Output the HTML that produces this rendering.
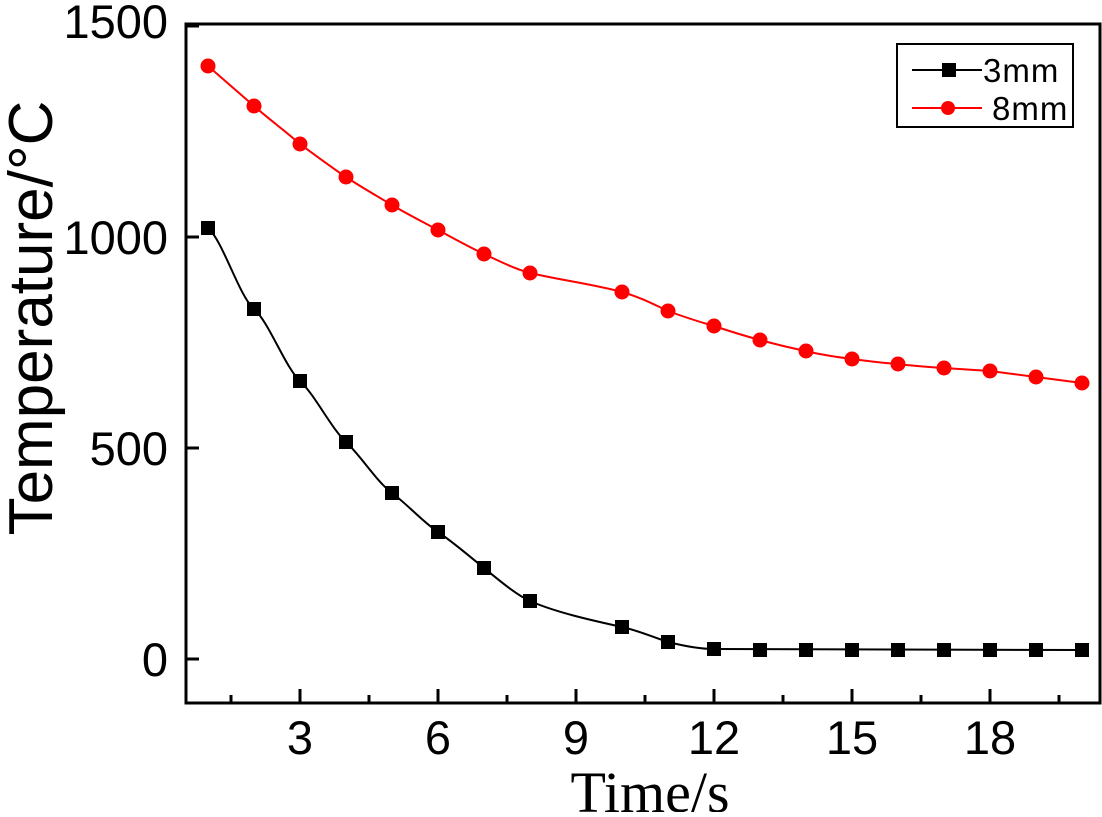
<!DOCTYPE html><html><head><style>body{margin:0;background:#fff}</style></head><body>
<svg width="1102" height="812" xmlns="http://www.w3.org/2000/svg" font-family="Liberation Sans, Arial, sans-serif">
<rect x="186" y="24" width="914" height="679" fill="none" stroke="#000" stroke-width="3"/>
<g stroke="#000" stroke-width="3">
<line x1="186" y1="659" x2="199" y2="659"/><line x1="186" y1="448" x2="199" y2="448"/><line x1="186" y1="237" x2="199" y2="237"/><line x1="186" y1="26" x2="199" y2="26"/>
<line x1="231" y1="703" x2="231" y2="695"/><line x1="300" y1="703" x2="300" y2="689"/>
<line x1="369" y1="703" x2="369" y2="695"/><line x1="438" y1="703" x2="438" y2="689"/>
<line x1="507" y1="703" x2="507" y2="695"/><line x1="576" y1="703" x2="576" y2="689"/>
<line x1="645" y1="703" x2="645" y2="695"/><line x1="714" y1="703" x2="714" y2="689"/>
<line x1="783" y1="703" x2="783" y2="695"/><line x1="852" y1="703" x2="852" y2="689"/>
<line x1="921" y1="703" x2="921" y2="695"/><line x1="990" y1="703" x2="990" y2="689"/>
<line x1="1059" y1="703" x2="1059" y2="695"/>
</g>
<g font-size="47" text-anchor="end" fill="#000">
<text x="168" y="676">0</text><text x="168" y="465">500</text><text x="168" y="254">1000</text><text x="168" y="38">1500</text>
</g>
<g font-size="47" text-anchor="middle" fill="#000">
<text x="300" y="754">3</text><text x="438" y="754">6</text><text x="576" y="754">9</text><text x="714" y="754">12</text><text x="852" y="754">15</text><text x="990" y="754">18</text>
</g>
<text x="650" y="812" font-size="58" text-anchor="middle" font-family="Liberation Serif, serif">Time/s</text>
<text transform="translate(52,318) rotate(-90)" font-size="62" text-anchor="middle">Temperature/°C</text>
<path fill="none" stroke="#000" stroke-width="2" d="M208,228 C223,241 239,296 254,309 C269,322 285,367 300,381 C315,395 331,428 346,442 C361,456 377,482 392,493 C407,504 423,522 438,532 C453,542 469,556 484,568 C499,580 515,594 530,601 C555,612 590,620 622,627 C640,631 655,638 668,642 C684,646 700,649 714,649 L1082,650"/>
<path fill="none" stroke="#f00" stroke-width="2" d="M208,66 C223,79 239,93 254,106 C269,119 285,131 300,144 C315,155 331,167 346,177 C361,187 377,196 392,205 C407,214 423,222 438,230 C453,238 469,247 484,254 C499,261 515,269 530,273 C560,280 592,284 622,292 C640,297 655,305 668,311 C684,317 700,322 714,326 C729,331 745,336 760,340 C775,344 791,348 806,351 C821,355 837,357 852,359 C867,361 883,363 898,364 C913,366 929,367 944,368 C959,369 975,370 990,371 C1005,373 1021,375 1036,377 C1051,379 1067,381 1082,383"/>
<g fill="#000">
<rect x="201" y="221" width="14" height="14"/><rect x="247" y="302" width="14" height="14"/><rect x="293" y="374" width="14" height="14"/><rect x="339" y="435" width="14" height="14"/><rect x="385" y="486" width="14" height="14"/><rect x="431" y="525" width="14" height="14"/><rect x="477" y="561" width="14" height="14"/><rect x="523" y="594" width="14" height="14"/><rect x="615" y="620" width="14" height="14"/><rect x="661" y="635" width="14" height="14"/><rect x="707" y="642" width="14" height="14"/><rect x="753" y="643" width="14" height="14"/><rect x="799" y="643" width="14" height="14"/><rect x="845" y="643" width="14" height="14"/><rect x="891" y="643" width="14" height="14"/><rect x="937" y="643" width="14" height="14"/><rect x="983" y="643" width="14" height="14"/><rect x="1029" y="643" width="14" height="14"/><rect x="1075" y="643" width="14" height="14"/>
</g>
<g fill="#f00">
<circle cx="208" cy="66" r="7.5"/><circle cx="254" cy="106" r="7.5"/><circle cx="300" cy="144" r="7.5"/><circle cx="346" cy="177" r="7.5"/><circle cx="392" cy="205" r="7.5"/><circle cx="438" cy="230" r="7.5"/><circle cx="484" cy="254" r="7.5"/><circle cx="530" cy="273" r="7.5"/><circle cx="622" cy="292" r="7.5"/><circle cx="668" cy="311" r="7.5"/><circle cx="714" cy="326" r="7.5"/><circle cx="760" cy="340" r="7.5"/><circle cx="806" cy="351" r="7.5"/><circle cx="852" cy="359" r="7.5"/><circle cx="898" cy="364" r="7.5"/><circle cx="944" cy="368" r="7.5"/><circle cx="990" cy="371" r="7.5"/><circle cx="1036" cy="377" r="7.5"/><circle cx="1082" cy="383" r="7.5"/>
</g>
<rect x="897" y="44" width="176" height="83" fill="#fff" stroke="#000" stroke-width="2"/>
<line x1="912" y1="70" x2="982" y2="70" stroke="#000" stroke-width="2"/><rect x="942" y="63" width="14" height="14" fill="#000"/>
<line x1="912" y1="108" x2="982" y2="108" stroke="#f00" stroke-width="2"/><circle cx="948" cy="108" r="7" fill="#f00"/>
<text x="983" y="82" font-size="33" letter-spacing="1">3mm</text><text x="992" y="120" font-size="33" letter-spacing="1">8mm</text>
</svg>
</body></html>
